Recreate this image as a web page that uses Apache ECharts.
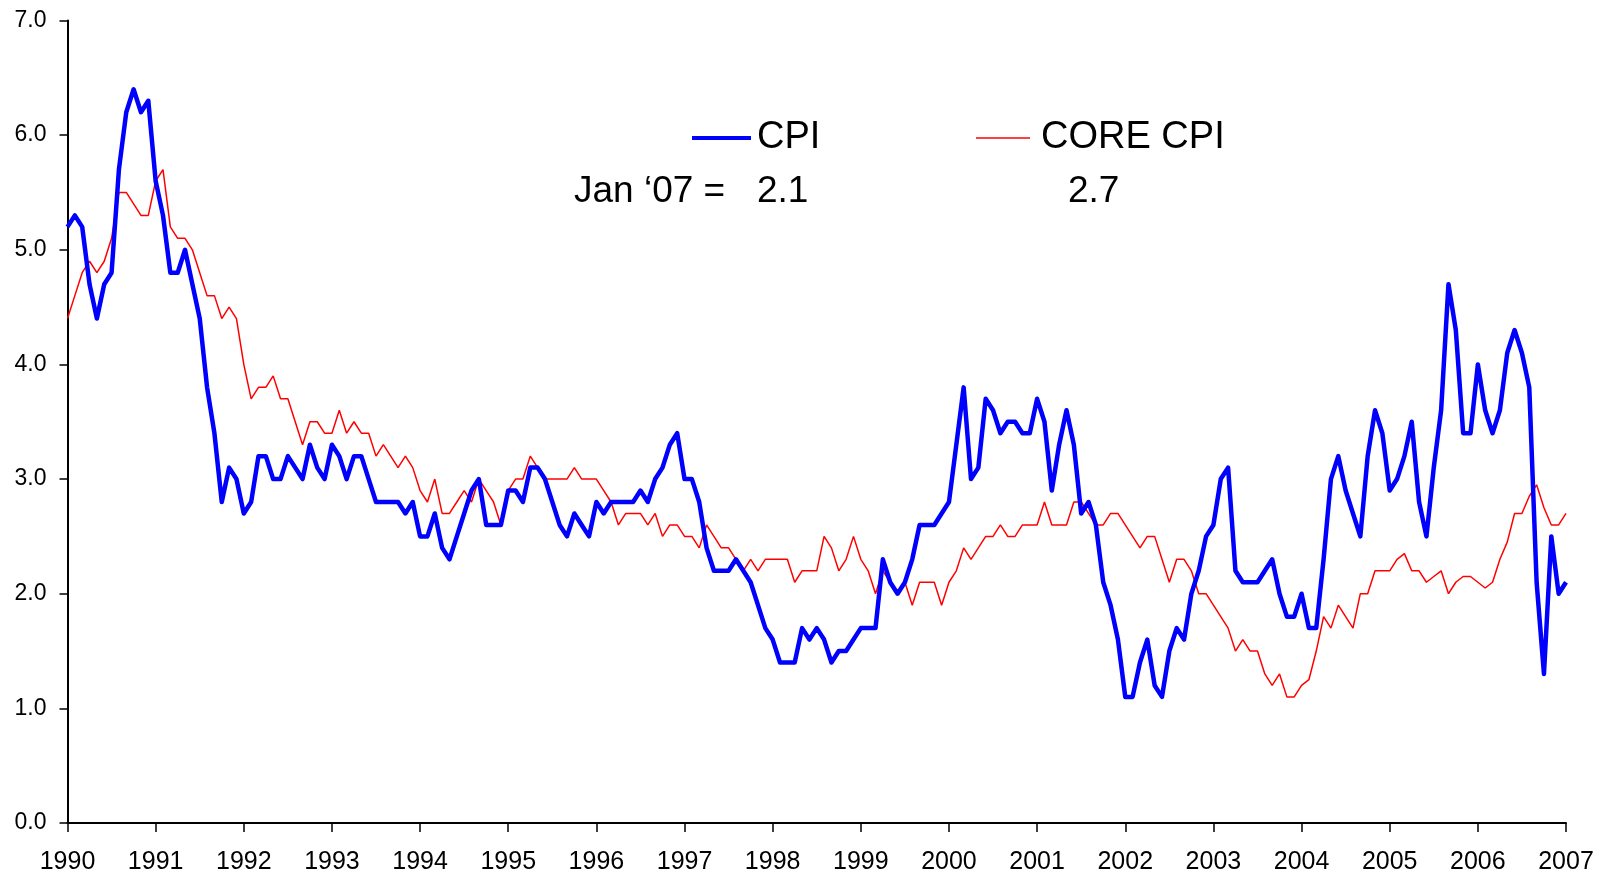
<!DOCTYPE html>
<html>
<head>
<meta charset="utf-8">
<script src="https://cdn.jsdelivr.net/npm/echarts@6/dist/echarts.min.js"></script>
<style>
  html, body { margin: 0; padding: 0; background: #fff; }
  #chart { width: 1603px; height: 875px; }
</style>
</head>
<body>
<div id="chart"></div>
<script>
// year-over-year % change, monthly, Jan 1990 .. Jan 2007
const cpi = [
  5.2, 5.3, 5.2, 4.7, 4.4, 4.7, 4.8, 5.7, 6.2, 6.4, 6.2, 6.3,   // 1990
  5.6, 5.3, 4.8, 4.8, 5.0, 4.7, 4.4, 3.8, 3.4, 2.8, 3.1, 3.0,   // 1991
  2.7, 2.8, 3.2, 3.2, 3.0, 3.0, 3.2, 3.1, 3.0, 3.3, 3.1, 3.0,   // 1992
  3.3, 3.2, 3.0, 3.2, 3.2, 3.0, 2.8, 2.8, 2.8, 2.8, 2.7, 2.8,   // 1993
  2.5, 2.5, 2.7, 2.4, 2.3, 2.5, 2.7, 2.9, 3.0, 2.6, 2.6, 2.6,   // 1994
  2.9, 2.9, 2.8, 3.1, 3.1, 3.0, 2.8, 2.6, 2.5, 2.7, 2.6, 2.5,   // 1995
  2.8, 2.7, 2.8, 2.8, 2.8, 2.8, 2.9, 2.8, 3.0, 3.1, 3.3, 3.4,   // 1996
  3.0, 3.0, 2.8, 2.4, 2.2, 2.2, 2.2, 2.3, 2.2, 2.1, 1.9, 1.7,   // 1997
  1.6, 1.4, 1.4, 1.4, 1.7, 1.6, 1.7, 1.6, 1.4, 1.5, 1.5, 1.6,   // 1998
  1.7, 1.7, 1.7, 2.3, 2.1, 2.0, 2.1, 2.3, 2.6, 2.6, 2.6, 2.7,   // 1999
  2.8, 3.3, 3.8, 3.0, 3.1, 3.7, 3.6, 3.4, 3.5, 3.5, 3.4, 3.4,   // 2000
  3.7, 3.5, 2.9, 3.3, 3.6, 3.3, 2.7, 2.8, 2.6, 2.1, 1.9, 1.6,   // 2001
  1.1, 1.1, 1.4, 1.6, 1.2, 1.1, 1.5, 1.7, 1.6, 2.0, 2.2, 2.5,   // 2002
  2.6, 3.0, 3.1, 2.2, 2.1, 2.1, 2.1, 2.2, 2.3, 2.0, 1.8, 1.8,   // 2003
  2.0, 1.7, 1.7, 2.3, 3.0, 3.2, 2.9, 2.7, 2.5, 3.2, 3.6, 3.4,   // 2004
  2.9, 3.0, 3.2, 3.5, 2.8, 2.5, 3.1, 3.6, 4.7, 4.3, 3.4, 3.4,   // 2005
  4.0, 3.6, 3.4, 3.6, 4.1, 4.3, 4.1, 3.8, 2.1, 1.3, 2.5, 2.0,   // 2006
  2.1                                                           // 2007
];

const coreCpi = [
  4.4, 4.6, 4.8, 4.9, 4.8, 4.9, 5.1, 5.5, 5.5, 5.4, 5.3, 5.3,
  5.6, 5.7, 5.2, 5.1, 5.1, 5.0, 4.8, 4.6, 4.6, 4.4, 4.5, 4.4,
  4.0, 3.7, 3.8, 3.8, 3.9, 3.7, 3.7, 3.5, 3.3, 3.5, 3.5, 3.4,
  3.4, 3.6, 3.4, 3.5, 3.4, 3.4, 3.2, 3.3, 3.2, 3.1, 3.2, 3.1,
  2.9, 2.8, 3.0, 2.7, 2.7, 2.8, 2.9, 2.8, 3.0, 2.9, 2.8, 2.6,
  2.9, 3.0, 3.0, 3.2, 3.1, 3.0, 3.0, 3.0, 3.0, 3.1, 3.0, 3.0,
  3.0, 2.9, 2.8, 2.6, 2.7, 2.7, 2.7, 2.6, 2.7, 2.5, 2.6, 2.6,
  2.5, 2.5, 2.4, 2.6, 2.5, 2.4, 2.4, 2.3, 2.2, 2.3, 2.2, 2.3,
  2.3, 2.3, 2.3, 2.1, 2.2, 2.2, 2.2, 2.5, 2.4, 2.2, 2.3, 2.5,
  2.3, 2.2, 2.0, 2.2, 2.1, 2.0, 2.1, 1.9, 2.1, 2.1, 2.1, 1.9,
  2.1, 2.2, 2.4, 2.3, 2.4, 2.5, 2.5, 2.6, 2.5, 2.5, 2.6, 2.6,
  2.6, 2.8, 2.6, 2.6, 2.6, 2.8, 2.8, 2.7, 2.6, 2.6, 2.7, 2.7,
  2.6, 2.5, 2.4, 2.5, 2.5, 2.3, 2.1, 2.3, 2.3, 2.2, 2.0, 2.0,
  1.9, 1.8, 1.7, 1.5, 1.6, 1.5, 1.5, 1.3, 1.2, 1.3, 1.1, 1.1,
  1.2, 1.25, 1.5, 1.8, 1.7, 1.9, 1.8, 1.7, 2.0, 2.0, 2.2, 2.2,
  2.2, 2.3, 2.35, 2.2, 2.2, 2.1, 2.15, 2.2, 2.0, 2.1, 2.15, 2.15,
  2.1, 2.05, 2.1, 2.3, 2.45, 2.7, 2.7, 2.85, 2.95, 2.75, 2.6, 2.6,
  2.7
];

const startYear = 1990;
const endYear = 2007;
const yTicks = [0, 1, 2, 3, 4, 5, 6, 7];

// one category per month, Jan 1990 .. Jan 2007
const months = [];
for (let y = startYear; y <= endYear; y++) {
  for (let m = 1; m <= 12; m++) {
    if (y === endYear && m > 1) break;
    months.push(y + '-' + String(m).padStart(2, '0'));
  }
}

const FONT = "'Liberation Sans', Arial, sans-serif";
const isYearStart = (idx) => idx % 12 === 0;

const chart = echarts.init(document.getElementById('chart'));
chart.setOption({
  animation: false,
  backgroundColor: '#fff',
  grid: { left: 67.5, right: 37, top: 20.5, bottom: 52, containLabel: false },
  xAxis: {
    type: 'category',
    data: months,
    boundaryGap: false,
    axisLine: { lineStyle: { color: '#000', width: 2 } },
    axisTick: { interval: isYearStart, length: 9, lineStyle: { color: '#000', width: 1.5 } },
    axisLabel: {
      interval: isYearStart,
      formatter: (v) => v.slice(0, 4),
      margin: 27,
      color: '#000',
      fontFamily: FONT,
      fontSize: 25
    },
    splitLine: { show: false }
  },
  yAxis: {
    type: 'value',
    min: yTicks[0],
    max: yTicks[yTicks.length - 1],
    interval: 1,
    axisLine: { show: true, lineStyle: { color: '#000', width: 2 } },
    axisTick: { show: true, length: 8, lineStyle: { color: '#000', width: 1.5 } },
    axisLabel: {
      formatter: (v) => v.toFixed(1),
      margin: 21,
      color: '#000',
      fontFamily: FONT,
      fontSize: 23
    },
    splitLine: { show: false }
  },
  legend: [
    {
      data: [{ name: 'CPI', icon: 'rect' }],
      left: 692, top: 119, padding: 0,
      itemWidth: 59, itemHeight: 4, itemGap: 0,
      textStyle: { fontFamily: FONT, fontSize: 38, color: '#000', padding: [0, 0, 0, 1] },
      selectedMode: false
    },
    {
      data: [{ name: 'CORE CPI', icon: 'rect' }],
      left: 976, top: 119, padding: 0,
      itemWidth: 54, itemHeight: 1.5, itemGap: 0,
      textStyle: { fontFamily: FONT, fontSize: 38, color: '#000', padding: [0, 0, 0, 6] },
      selectedMode: false
    }
  ],
  graphic: [
    { type: 'text', left: 574, top: 173,
      style: { text: 'Jan \u201807 =', font: '37px ' + FONT, fill: '#000' } },
    { type: 'text', left: 757, top: 173,
      style: { text: cpi[cpi.length - 1].toFixed(1), font: '37px ' + FONT, fill: '#000' } },
    { type: 'text', left: 1068, top: 173,
      style: { text: coreCpi[coreCpi.length - 1].toFixed(1), font: '37px ' + FONT, fill: '#000' } }
  ],
  series: [
    {
      name: 'CPI', type: 'line', data: cpi, showSymbol: false, symbol: 'none',
      lineStyle: { color: '#0000ff', width: 4.5, join: 'round' },
      itemStyle: { color: '#0000ff' }, z: 3
    },
    {
      name: 'CORE CPI', type: 'line', data: coreCpi, showSymbol: false, symbol: 'none',
      lineStyle: { color: '#ff0000', width: 1.5 },
      itemStyle: { color: '#ff0000' }, z: 2
    }
  ]
});
</script>
</body>
</html>
